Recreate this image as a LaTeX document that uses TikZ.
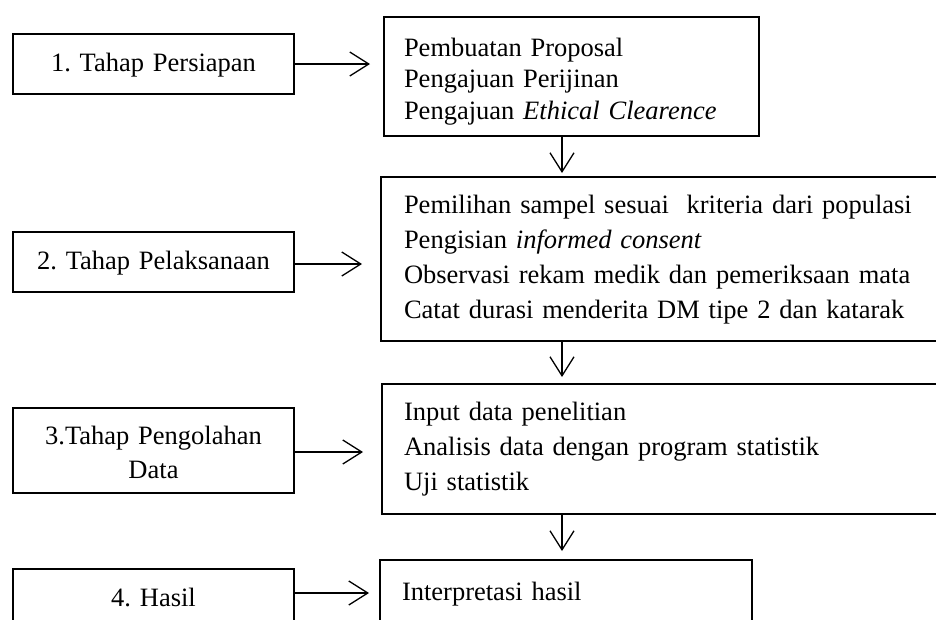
\documentclass[tikz,border=0pt]{standalone}
\usepackage{fontspec}
\setmainfont{Liberation Serif}
\usetikzlibrary{arrows.meta}
\frenchspacing
\begin{document}
\begin{tikzpicture}[x=1pt,y=-1pt,
  txt/.style={font=\fontsize{26.5}{35}\selectfont},
  lbox/.style={draw, line width=2pt, anchor=north west, inner xsep=10pt, inner ysep=0pt,
    text width=261pt, align=center, txt},
  rbox/.style={draw, line width=2pt, anchor=north west, inner ysep=0pt, align=left, txt},
  arr/.style={line width=1.3pt, -{Straight Barb[length=19pt,width=24pt,line width=1.3pt]}}]
\useasboundingbox (0,0) rectangle (936,619);
\clip (0,0) rectangle (936,619);
\coordinate (ax) at (562,0);
% left boxes
\node[lbox, text height=37pt, text depth=23pt] (l1) at (12,33) {1. Tahap Persiapan};
\node[lbox, text height=37pt, text depth=23pt] (l2) at (12,231) {2. Tahap Pelaksanaan};
\node[lbox, text height=36pt, text depth=49pt, font=\fontsize{26.5}{34}\selectfont] (l3) at (12,407) {3.Tahap Pengolahan\\Data};
\node[lbox, text height=37pt, text depth=40pt] (l4) at (12,568) {4. Hasil};
% right boxes
\node[rbox, inner xsep=20pt, text width=335pt, text height=39pt, text depth=80pt,
  font=\fontsize{26.5}{31.5}\selectfont] (r1) at (383,16)
  {Pembuatan Proposal\\Pengajuan Perijinan\\Pengajuan \textit{Ethical Clearence}};
\node[rbox, inner xsep=23pt, text width=554pt, text height=36pt, text depth=128pt] (r2) at (380,176)
  {Pemilihan sampel sesuai~ kriteria dari populasi\\Pengisian \textit{informed consent}\\Observasi rekam medik dan pemeriksaan mata\\Catat durasi menderita DM tipe 2 dan katarak};
\node[rbox, inner xsep=22pt, text width=556pt, text height=36pt, text depth=94pt] (r3) at (381,383)
  {Input data penelitian\\Analisis data dengan program statistik\\Uji statistik};
\node[rbox, inner xsep=22pt, text width=328pt, text height=40pt, text depth=60pt] (r4) at (379,559)
  {Interpretasi hasil};
% horizontal arrows
\draw[arr, shorten >=13pt] (l1.east) -- (l1.east -| r1.west);
\draw[arr, shorten >=18pt] ([yshift=-2pt]l2.east) -- ([yshift=-2pt]l2.east -| r2.west);
\draw[arr, shorten >=18pt] ([yshift=-1.5pt]l3.east) -- ([yshift=-1.5pt]l3.east -| r3.west);
\draw[arr, shorten >=10pt] ([yshift=-25pt]l4.north east) -- ([yshift=-25pt]l4.north east -| r4.west);
% vertical arrows
\draw[arr, shorten >=3pt] (r1.south -| ax) -- (r2.north -| ax);
\draw[arr, shorten >=6pt] (r2.south -| ax) -- (r3.north -| ax);
\draw[arr, shorten >=8pt] (r3.south -| ax) -- (r4.north -| ax);
\end{tikzpicture}
\end{document}
